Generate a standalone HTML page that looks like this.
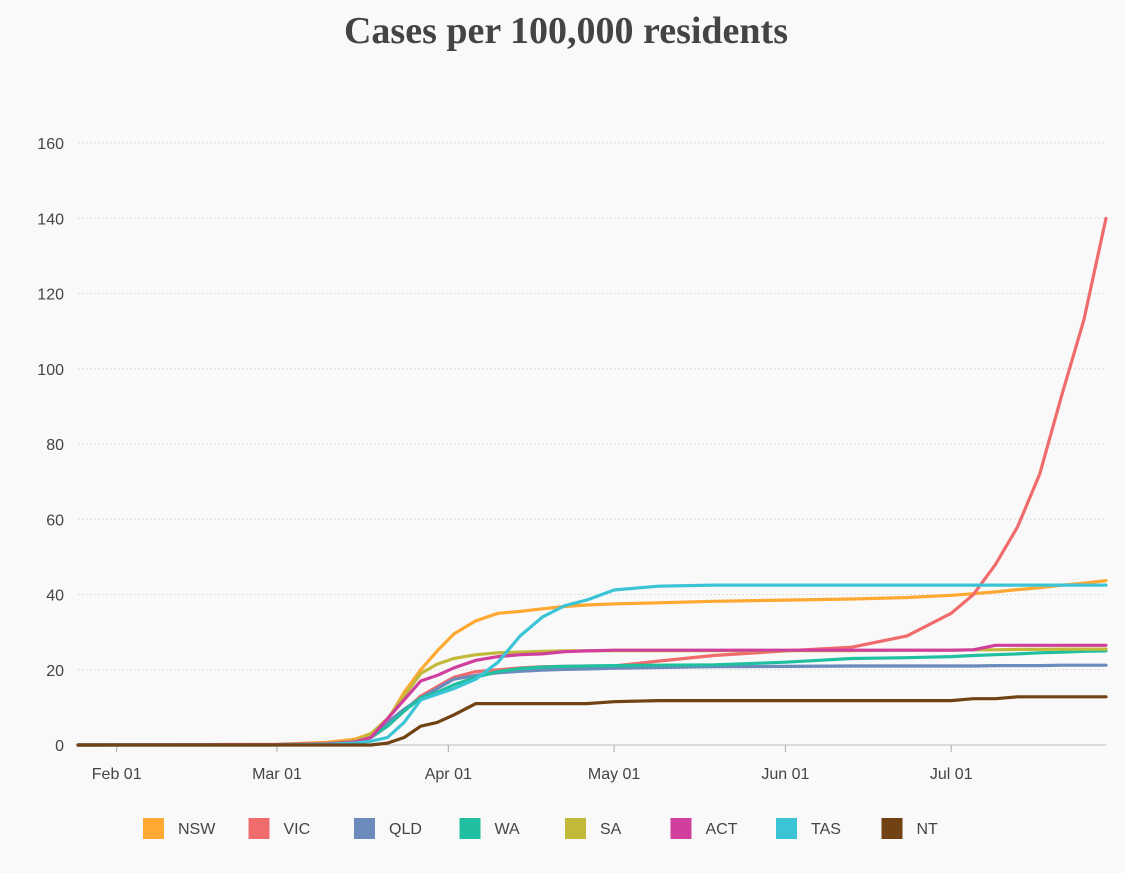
<!DOCTYPE html>
<html><head><meta charset="utf-8">
<style>
html,body{margin:0;padding:0;background:#f9f9f9;}
body{width:1125px;height:868px;overflow:hidden;font-family:"Liberation Sans",sans-serif;}
</style></head>
<body>
<svg id="chart" width="1125" height="868" xmlns="http://www.w3.org/2000/svg">
<rect width="1125" height="868" fill="#f9f9f9"/>
<text x="566" y="43" text-anchor="middle" font-family="Liberation Serif, serif" font-weight="bold" font-size="38" fill="#444">Cases per 100,000 residents</text>
<g id="grid"></g><g id="xaxis"></g><g id="lines"></g><g id="legend"></g>
</svg>
<script>
const days=[0,36,45,50,53,56,59,62,65,68,72,76,80,84,88,92,97,105,115,128,140,150,158,162,166,170,174,178,182,186];
const yTicks=[0,20,40,60,80,100,120,140,160];
const xTickDays=[7,36,67,97,128,158];
const xTickLabels=["Feb 01","Mar 01","Apr 01","May 01","Jun 01","Jul 01"];
const names=["NSW","VIC","QLD","WA","SA","ACT","TAS","NT"];
const colors=["#ffa832","#f06b6b","#6a8bbc","#1fbfa0","#c2b83a","#d03f9d","#3ac4d6","#704214"];
const NSW=[0,0.2,0.7,1.5,3,6.5,14,20,25,29.5,33,35,35.5,36.2,36.8,37.2,37.5,37.8,38.2,38.5,38.8,39.2,39.8,40.2,40.7,41.3,41.8,42.5,43,43.7];
const VIC=[0,0.1,0.5,1,2,5,9,13,15.5,18,19.5,20,20.5,20.8,20.9,21,21,22.3,23.8,25,26,29,35,40,48,58,72,93,113,140];
const QLD=[0,0.1,0.3,0.7,2,6,9.5,12.5,15,17.5,18.5,19.2,19.6,19.9,20.1,20.2,20.4,20.6,20.8,20.9,21,21,21,21,21.1,21.1,21.1,21.2,21.2,21.2];
const WA=[0,0.1,0.3,0.7,2,5,9,12.5,14,16,18,19.5,20.3,20.7,20.9,21,21.1,21.2,21.3,22,23,23.2,23.5,23.8,24,24.2,24.5,24.7,24.9,25];
const SA=[0,0.1,0.4,1,3,7,13,19,21.5,23,24,24.5,24.7,24.9,25,25,25.1,25.1,25.1,25.1,25.1,25.2,25.2,25.3,25.3,25.4,25.4,25.5,25.5,25.5];
const ACT=[0,0.1,0.3,0.8,2,7,12,17,18.5,20.5,22.5,23.5,24,24.2,24.8,25,25.2,25.2,25.2,25.2,25.2,25.2,25.2,25.3,26.5,26.5,26.5,26.5,26.5,26.5];
const TAS=[0,0,0.2,0.5,1,2,6,12,13.5,15,17.5,22,29,34,37,38.5,41.2,42.2,42.5,42.5,42.5,42.5,42.5,42.5,42.5,42.5,42.5,42.5,42.5,42.5];
const NT=[0,0,0,0,0,0.5,2,5,6,8,11,11,11,11,11,11,11.5,11.8,11.8,11.8,11.8,11.8,11.8,12.3,12.3,12.8,12.8,12.8,12.8,12.8];
const series=[NSW,VIC,QLD,WA,SA,ACT,TAS,NT];

const NS="http://www.w3.org/2000/svg";
const X0=78,X1=1106,PXD=(1106-78)/186;
const xS=d=>X0+d*PXD;
const yS=v=>745-v*(745-143)/160;
function mk(tag,attrs,parent){const e=document.createElementNS(NS,tag);for(const k in attrs)e.setAttribute(k,attrs[k]);parent.appendChild(e);return e;}
const grid=document.getElementById('grid');
yTicks.forEach(t=>{
  const l=mk('line',{x1:X0,x2:X1,y1:yS(t),y2:yS(t),stroke:t===0?'#bbb':'#ddd','stroke-dasharray':t===0?'':'2,2','stroke-width':1},grid);
  
  
  const tx=mk('text',{x:64,y:yS(t)+6,'text-anchor':'end','font-size':16,fill:'#444'},grid);
  tx.textContent=t;
  
  
});
const xa=document.getElementById('xaxis');
xTickDays.forEach((d,i)=>{
  const l=mk('line',{x1:xS(d),x2:xS(d),y1:745,y2:752,stroke:'#aaa'},xa);
  
  
  const t=mk('text',{x:xS(d),y:779,'text-anchor':'middle','font-size':16,fill:'#444'},xa);
  t.textContent=xTickLabels[i];
  
  
});
const lg=document.getElementById('lines');
series.forEach((s,i)=>{
  const pts=s.map((v,j)=>xS(days[j]).toFixed(1)+','+yS(v).toFixed(1)).join(' ');
  const p=mk('polyline',{points:pts,fill:'none',stroke:colors[i],'stroke-width':3.2,'stroke-linejoin':'round','stroke-linecap':'round'},lg);
  
  
});
const leg=document.getElementById('legend');
names.forEach((n,i)=>{
  const x=143+i*105.5;
  const g=mk('g',{},leg);
  
  
  mk('rect',{x:x,y:818,width:21,height:21,fill:colors[i]},g);
  const t=mk('text',{x:x+35,y:834,'font-size':16,fill:'#444'},g);
  t.textContent=n;
});
</script>
</body></html>
